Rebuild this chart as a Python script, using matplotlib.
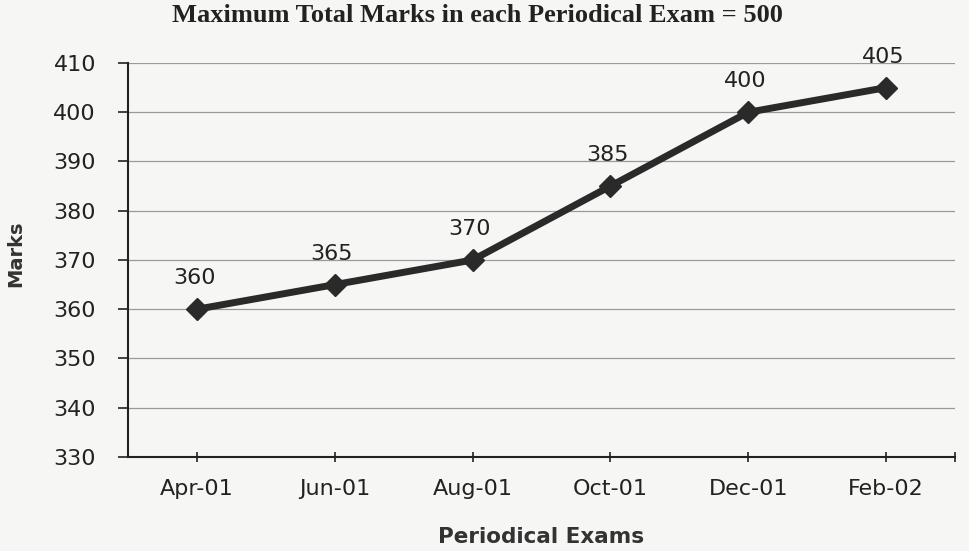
import numpy as np
import matplotlib.pyplot as plt

# periodical exam marks (max 500 each)
exams = ["Apr-01", "Jun-01", "Aug-01", "Oct-01", "Dec-01", "Feb-02"]
marks = [360, 365, 370, 385, 400, 405]
yticks = [330, 340, 350, 360, 370, 380, 390, 400, 410]

fig = plt.figure(figsize=(9.7, 5.51), dpi=100)
fig.patch.set_facecolor("#f6f6f4")
ax = fig.add_axes([128/970, 1 - 457/551, (955-128)/970, (457-63)/551])
ax.set_facecolor("#f6f6f4")

x = np.arange(len(exams))
ax.plot(x, marks, color="#2a2a2a", lw=5, marker="D", ms=11,
        mfc="#2a2a2a", mec="#2a2a2a", zorder=3)
for xi, m in zip(x, marks):
    ax.annotate(str(m), (xi, m), xytext=(-2, 15), textcoords="offset points",
                ha="center", va="bottom", fontsize=16, color="#222222")

ax.set_xlim(-0.5, 5.5)
ax.set_ylim(330, 410)
ax.set_yticks(yticks)
ax.set_xticks(list(x) + [5.5])
ax.set_xticklabels(exams + [""])
ax.tick_params(axis="both", labelsize=16, colors="#222222", length=7, width=1.2)
ax.tick_params(axis="y", pad=16)
ax.tick_params(axis="x", direction="inout", pad=12)
ax.grid(axis="y", color="#9a9a9a", lw=0.9)
ax.set_axisbelow(True)
for s in ["top", "right"]:
    ax.spines[s].set_visible(False)
for s in ["left", "bottom"]:
    ax.spines[s].set_linewidth(1.5)
    ax.spines[s].set_color("#222222")

fig.text(0.492, 0.972, "Maximum Total Marks in each Periodical Exam = 500",
         ha="center", va="center", fontsize=19, fontweight="bold",
         family="Liberation Serif", color="#222222")
fig.text(0.016, 0.539, "Marks", rotation=90, ha="center", va="center",
         fontsize=14, fontweight="bold", color="#333333")
fig.text(0.558, 0.025, "Periodical Exams", ha="center", va="center",
         fontsize=15.5, fontweight="bold", color="#333333")

fig.savefig("out.png", dpi=100, facecolor=fig.get_facecolor())
